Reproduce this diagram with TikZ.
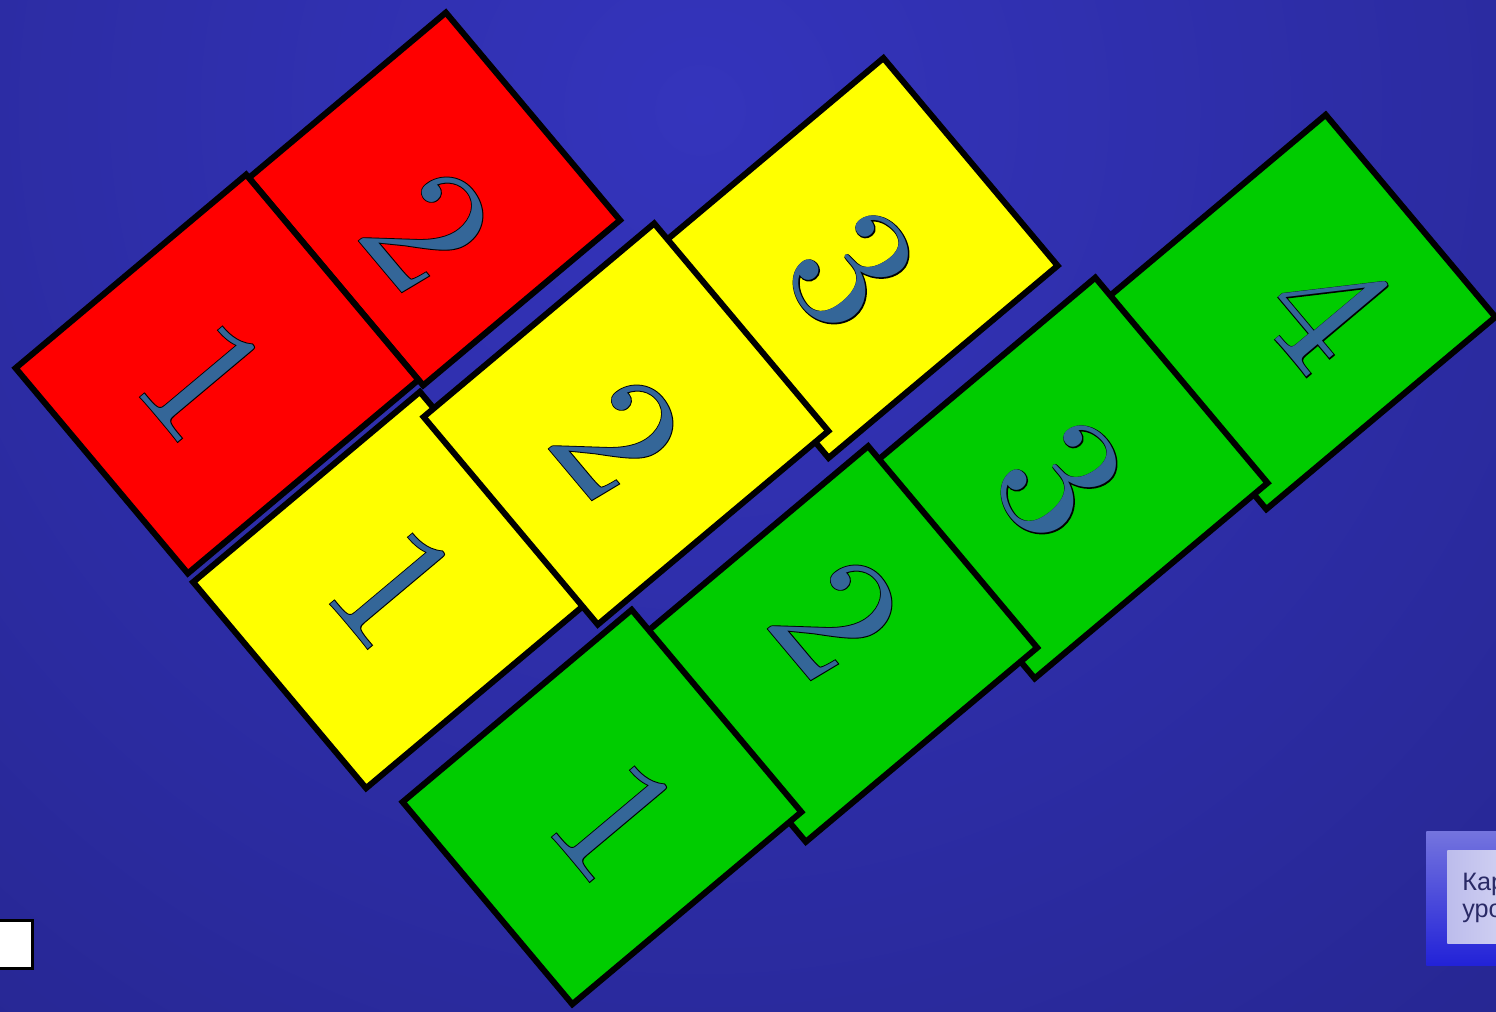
\documentclass[tikz,border=0pt]{standalone}
\usepackage{fontspec}
\usepackage{xcolor}
\usepackage{tikz}
\newfontfamily\numfill{lmroman10-regular.otf}
\newfontfamily\numedge{lmroman10-regular.otf}[FakeBold=1.0]
\newfontfamily\btnfont{Liberation Sans}
\definecolor{BGIN}{HTML}{3434BC}
\definecolor{BGOUT}{HTML}{1E1E78}
\definecolor{TRED}{HTML}{FF0000}
\definecolor{TYEL}{HTML}{FFFF00}
\definecolor{TGRN}{HTML}{00CC00}
\definecolor{NUMBLUE}{HTML}{346698}
\definecolor{BTNTOP}{HTML}{7474DE}
\definecolor{BTNBOT}{HTML}{2222D8}
\definecolor{PANELL}{HTML}{BCBCEC}
\definecolor{PANELR}{HTML}{E4E4F8}
\definecolor{BTNTXT}{HTML}{2A2A66}
\newcommand{\tilenum}[1]{\makebox[0pt]{\numedge\color{black}#1}\makebox[0pt]{\numfill\color{NUMBLUE}#1}}

\begin{document}
\begin{tikzpicture}[
    x=0.5pt, y=-0.5pt,
    tile/.style={draw=black, line width=3pt, rotate=-50, inner sep=0pt},
    num/.style={rotate=-50, inner sep=0pt, font=\fontsize{90}{90}\selectfont},
    keybox/.style={draw=black, fill=white, line width=1.5pt, inner sep=0pt, minimum width=40pt, minimum height=24pt},
    btnouter/.style={top color=BTNTOP, bottom color=BTNBOT, inner sep=0pt, minimum width=70pt, minimum height=67pt},
    btnpanel/.style={left color=PANELL, right color=PANELR, inner sep=0pt, minimum width=55pt, minimum height=46.5pt},
    btntext/.style={inner sep=0pt, text=BTNTXT, font=\btnfont\fontsize{12.6}{14}\selectfont},
  ]

  % backdrop
  \useasboundingbox (0,0) rectangle (1496,1012);
  \begin{scope}
    \clip (0,0) rectangle (1496,1012);
    \shade[inner color=BGIN, outer color=BGOUT] (700,110) circle (2000);
  \end{scope}

  % tiles: name/colour/centre/short side/long side
  \foreach \nm/\clr/\cx/\cy/\sw/\lh in {
      r2/TRED/434.5/199/271/257, r1/TRED/217/374/268/301,
      y3/TYEL/856/258/271/299, y1/TYEL/393/590/269/296, y2/TYEL/626/424/271/301,
      g4/TGRN/1296/312/264/299, g3/TGRN/1065/478/268/304,
      g2/TGRN/837/644/263/302, g1/TGRN/602/807/264/299} {
    \node[tile, fill=\clr, minimum width=\sw*0.5pt, minimum height=\lh*0.5pt] (\nm) at (\cx,\cy) {};
  }

  % numbers on the tiles
  \foreach \nm/\cx/\cy/\d in {
      r1/204/380/1, r2/428/230/2,
      y1/394/587/1, y2/618/438/2, y3/852/270/3,
      g1/616/820/1, g2/837/618/2, g3/1060/480/3, g4/1328/308/4} {
    \node[num] (\nm-num) at (\cx,\cy) {\tilenum{\d}};
  }

  % white key, bottom left
  \node[keybox, anchor=north east] (key) at (33.5,918.5) {};

  % navigation button, bottom right
  \node[btnouter, anchor=north west] (navbtn) at (1426,831) {};
  \node[btnpanel, anchor=north west] (navpanel) at (1447,850) {};
  \node[btntext, anchor=base west] (navline1) at (1462,890) {Кар};
  \node[btntext, anchor=base west] (navline2) at (1462,917) {уро};

\end{tikzpicture}
\end{document}
